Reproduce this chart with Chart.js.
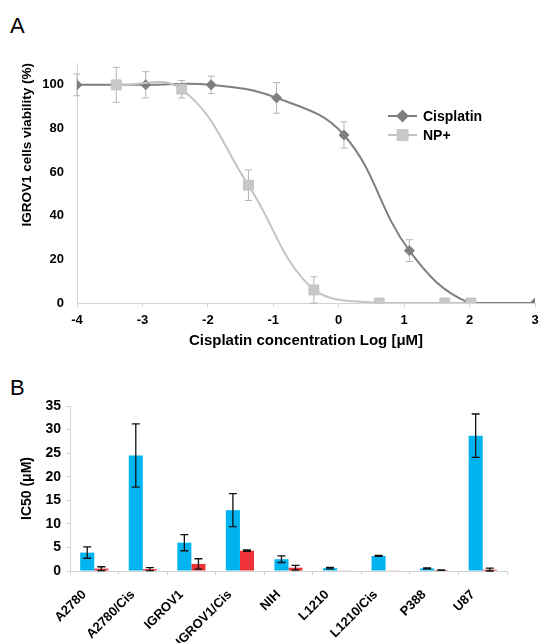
<!DOCTYPE html>
<html>
<head>
<meta charset="utf-8">
<script src="https://cdn.jsdelivr.net/npm/chart.js@4.4.1/dist/chart.umd.min.js"></script>
<style>
body{margin:0;background:#fff;font-family:"Liberation Sans",Arial,sans-serif;}
#wrap{position:relative;width:543px;height:643px;overflow:hidden;background:#fff}
.lbl{position:absolute;font-size:22px;color:#000;line-height:1}
#cA{position:absolute;left:0;top:0}
#cB{position:absolute;left:0;top:360px}
</style>
</head>
<body>
<div id="wrap">
<div class="lbl" style="left:10px;top:15px">A</div>
<div class="lbl" style="left:10px;top:377px">B</div>
<canvas id="cA" width="543" height="355"></canvas>
<canvas id="cB" width="543" height="283"></canvas>
</div>
<script>
// panel A - viability vs log concentration
const logCis = [-4, -2.95, -1.95, -0.95, 0.08, 1.08, 2, 3];
const viabCis = [100, 100, 100, 94, 77, 24, 0, 0];
const errCis = [5, 6, 4, 7, 6, 5, 0, 0];

const logNp = [-3.4, -2.4, -1.38, -0.38, 0.62, 1.62, 2.02];
const viabNp = [100, 98, 54, 6, 0, 0, 0];
const errNp = [8, 4, 7, 6, 2, 0, 0];

const xTicksA = [-4, -3, -2, -1, 0, 1, 2, 3];
const yTicksA = [0, 20, 40, 60, 80, 100];

// panel B - IC50
const cellLines = ['A2780', 'A2780/Cis', 'IGROV1', 'IGROV1/Cis', 'NIH', 'L1210', 'L1210/Cis', 'P388', 'U87'];
const ic50Cis = [3.9, 24.5, 6.0, 12.9, 2.5, 0.6, 3.2, 0.55, 28.7];
const sdCis = [1.2, 6.7, 1.7, 3.5, 0.7, 0.15, 0.1, 0.1, 4.6];
const ic50Np = [0.5, 0.4, 1.5, 4.3, 0.7, 0.08, 0.08, 0.2, 0.3];
const sdNp = [0.4, 0.3, 1.1, 0.15, 0.5, 0, 0, 0.05, 0.3];

const FONT = '"Liberation Sans", Arial, sans-serif';
const bold = (s) => ({family: FONT, size: s, weight: 'bold'});
const AXIS = '#d4d4d4';

function pts(xs, ys) {
    return xs.map((x, i) => ({x: x, y: ys[i]}));
}

function drawErrors(chart) {
    const ctx = chart.ctx;
    const ys = chart.scales.y;
    chart.data.datasets.forEach((ds, i) => {
        if (!ds.errors) return;
        const meta = chart.getDatasetMeta(i);
        ctx.save();
        ctx.strokeStyle = ds.errorColor;
        ctx.lineWidth = ds.errorWidth;
        meta.data.forEach((el, j) => {
            const e = ds.errors[j];
            if (!e) return;
            const d = ds.data[j];
            const v = typeof d === 'object' ? d.y : d;
            const x = el.x;
            const top = ys.getPixelForValue(v + e);
            const bot = ys.getPixelForValue(Math.max(v - e, 0));
            const c = ds.capHalf;
            ctx.beginPath();
            ctx.moveTo(x, top); ctx.lineTo(x, bot);
            ctx.moveTo(x - c, top); ctx.lineTo(x + c, top);
            ctx.moveTo(x - c, bot); ctx.lineTo(x + c, bot);
            ctx.stroke();
        });
        ctx.restore();
    });
}

const errorBars = {
    id: 'errorBars',
    beforeDatasetsDraw(chart, args, opts) { if (opts.under) drawErrors(chart); },
    afterDatasetsDraw(chart, args, opts) { if (!opts.under) drawErrors(chart); }
};

const fixedLegend = {
    id: 'fixedLegend',
    afterDraw(chart, args, opts) {
        if (!opts.x) return;
        const ctx = chart.ctx;
        ctx.save();
        ctx.font = opts.font;
        ctx.textBaseline = 'middle';
        opts.order.forEach((idx, k) => {
            const ds = chart.data.datasets[idx];
            const y = opts.y + k * opts.gap;
            if (opts.kind === 'line') {
                ctx.strokeStyle = ds.borderColor;
                ctx.lineWidth = 2;
                ctx.beginPath();
                ctx.moveTo(opts.x, y); ctx.lineTo(opts.x + 29, y);
                ctx.stroke();
                ctx.fillStyle = ds.backgroundColor;
                ctx.strokeStyle = ds.backgroundColor;
                Chart.helpers.drawPoint(ctx, {pointStyle: ds.pointStyle, radius: ds.pointRadius, rotation: 0, borderWidth: 1}, opts.x + 14.5, y);
                ctx.fillStyle = '#000';
                ctx.fillText(ds.label, opts.x + 35, y + 1);
            } else {
                ctx.fillStyle = ds.backgroundColor;
                ctx.fillRect(opts.x, y - 5, 10, 10);
                ctx.fillStyle = '#000';
                ctx.fillText(ds.label, opts.x + 14, y + 1);
            }
        });
        ctx.restore();
    }
};

Chart.register(errorBars, fixedLegend);

new Chart(document.getElementById('cA'), {
    type: 'scatter',
    data: {
        datasets: [{
            label: 'Cisplatin',
            data: pts(logCis, viabCis),
            errors: errCis,
            errorColor: '#b4b4b4', errorWidth: 1, capHalf: 3.5,
            showLine: true, tension: 0.4,
            borderColor: '#7f7f7f', backgroundColor: '#7f7f7f', borderWidth: 2,
            pointStyle: 'rectRot', pointRadius: 5, pointBorderWidth: 1,
            order: 2
        }, {
            label: 'NP+',
            data: pts(logNp, viabNp),
            errors: errNp,
            errorColor: '#b4b4b4', errorWidth: 1, capHalf: 3.5,
            showLine: true, tension: 0.4,
            borderColor: '#c4c4c4', backgroundColor: '#c8c8c8', borderWidth: 2,
            pointStyle: 'rect', pointRadius: 7, pointBorderWidth: 1,
            order: 1
        }]
    },
    options: {
        responsive: false, animation: false,
        layout: {padding: {top: 63, right: 5, left: 0, bottom: 0}},
        plugins: {
            legend: {display: false}, tooltip: {enabled: false},
            errorBars: {under: true},
            fixedLegend: {x: 388, y: 116, gap: 19, kind: 'line', order: [0, 1], font: 'bold 14px ' + FONT}
        },
        scales: {
            x: {
                type: 'linear', min: -4, max: 3,
                afterBuildTicks: s => { s.ticks = xTicksA.map(v => ({value: v})); },
                afterFit: s => { s.height = 52; s.paddingLeft = 0; s.paddingRight = 0; },
                ticks: {font: bold(13), color: '#000', padding: 6},
                grid: {drawOnChartArea: false, tickLength: 4, color: AXIS},
                border: {color: AXIS},
                title: {display: true, text: 'Cisplatin concentration Log [μM]', font: bold(15), color: '#000', padding: {top: 0, bottom: 5}}
            },
            y: {
                min: 0, max: 110,
                afterBuildTicks: s => { s.ticks = yTicksA.map(v => ({value: v})); },
                afterFit: s => { s.width = 77; },
                ticks: {font: bold(13), color: '#000', padding: 13},
                grid: {drawOnChartArea: false, drawTicks: false, color: AXIS},
                border: {display: true, color: AXIS},
                title: {display: true, text: 'IGROV1 cells viability (%)', align: 'end', font: bold(13.5), color: '#000', padding: {top: 19, bottom: 0}}
            }
        }
    }
});

new Chart(document.getElementById('cB'), {
    type: 'bar',
    data: {
        labels: cellLines,
        datasets: [{
            label: 'Cisplatin',
            data: ic50Cis,
            errors: sdCis,
            errorColor: '#111', errorWidth: 1.3, capHalf: 4,
            backgroundColor: '#00b4ef',
            categoryPercentage: 0.58, barPercentage: 1
        }, {
            label: 'NP+',
            data: ic50Np,
            errors: sdNp,
            errorColor: '#111', errorWidth: 1.3, capHalf: 4,
            backgroundColor: '#ef3338',
            categoryPercentage: 0.58, barPercentage: 1
        }]
    },
    options: {
        responsive: false, animation: false,
        layout: {padding: {top: 46, right: 36, left: 0, bottom: 0}},
        plugins: {
            legend: {display: false}, tooltip: {enabled: false},
            errorBars: {under: false},
            fixedLegend: {x: 315, y: 424, gap: 21, kind: 'box', order: [0, 1], font: '15px ' + FONT}
        },
        scales: {
            x: {
                afterFit: s => { s.height = 72; },
                ticks: {font: bold(13), color: '#000', minRotation: 45, maxRotation: 45, padding: 12, labelOffset: -10, autoSkip: false},
                grid: {drawOnChartArea: false, tickLength: 4, color: AXIS},
                border: {color: AXIS}
            },
            y: {
                min: 0, max: 35,
                ticks: {stepSize: 5, font: bold(14), color: '#000', padding: 5},
                afterFit: s => { s.width = 70; },
                grid: {drawOnChartArea: false, tickLength: 4, color: AXIS},
                border: {color: AXIS},
                title: {display: true, text: 'IC50 (μM)', font: bold(14), color: '#000', padding: {top: 19, bottom: 0}}
            }
        }
    }
});
</script>
</body>
</html>
